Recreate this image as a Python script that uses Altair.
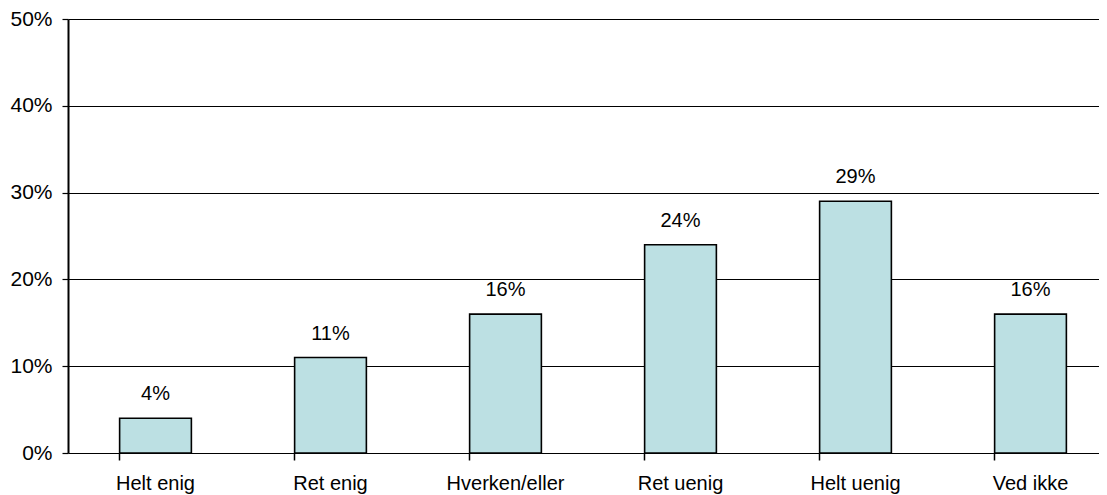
import altair as alt
import pandas as pd

categories = ["Helt enig", "Ret enig", "Hverken/eller", "Ret uenig", "Helt uenig", "Ved ikke"]
values = [4, 11, 16, 24, 29, 16]
labels = ["4%", "11%", "16%", "24%", "29%", "16%"]

df = pd.DataFrame({"cat": categories, "val": [v / 100 for v in values], "lab": labels})

FONT = "Liberation Sans"

x = alt.X(
    "cat:N",
    sort=categories,
    title=None,
    scale=alt.Scale(paddingInner=0.59, paddingOuter=0.295),
    axis=alt.Axis(
        labelAngle=0,
        domain=False,
        bandPosition=0,
        ticks=True,
        tickSize=7,
        tickColor="black",
        tickWidth=1.5,
        labelPadding=13,
        labelFont=FONT,
        labelFontSize=20,
        labelColor="black",
        grid=False,
    ),
)
y = alt.Y(
    "val:Q",
    title=None,
    scale=alt.Scale(domain=[0, 0.5]),
    axis=alt.Axis(
        values=[0, 0.1, 0.2, 0.3, 0.4, 0.5],
        format=".0%",
        grid=True,
        gridColor="black",
        gridWidth=1.2,
        gridOpacity=1,
        domain=True,
        domainColor="black",
        domainWidth=2,
        tickSize=6,
        tickColor="black",
        tickWidth=1.2,
        labelPadding=10,
        labelFont=FONT,
        labelFontSize=21,
        labelColor="black",
    ),
)

bars = alt.Chart(df).mark_bar(
    fill="#BCE0E3", stroke="black", strokeWidth=1.6
).encode(x=x, y=y)

text = alt.Chart(df).mark_text(
    baseline="middle", dy=-24, font=FONT, fontSize=20, color="black"
).encode(x=alt.X("cat:N", sort=categories), y="val:Q", text="lab:N")

chart = (
    alt.layer(bars, text)
    .properties(
        width=1050,
        height=434,
        autosize=alt.AutoSizeParams(type="none"),
        padding={"left": 60, "top": 11, "right": -19, "bottom": 42},
    )
    .configure_view(stroke=None)
)

chart.save("out.html", embed_options={"renderer": "svg", "actions": False})
